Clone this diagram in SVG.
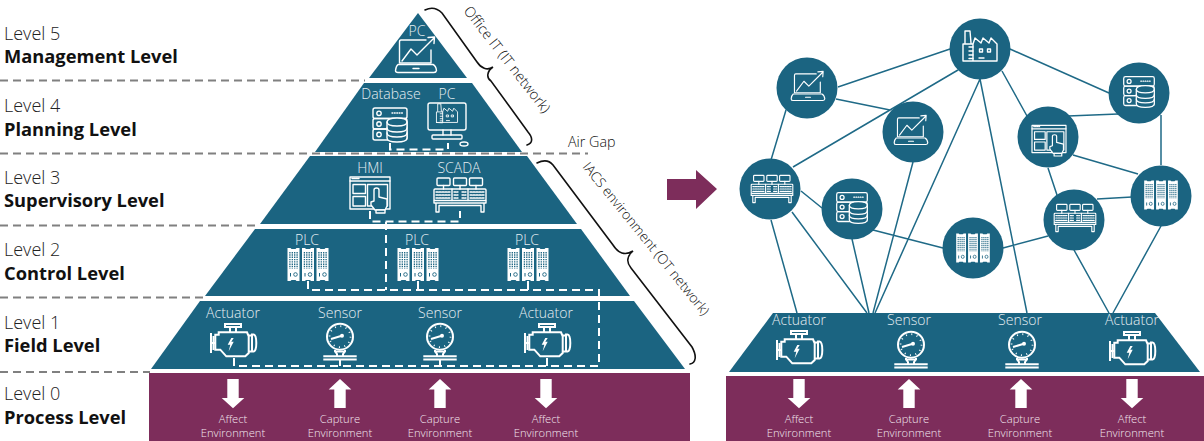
<svg xmlns="http://www.w3.org/2000/svg" xmlns:xlink="http://www.w3.org/1999/xlink" width="1204" height="441" viewBox="0 0 1204 441">
<style>
text{font-family:"Open Sans","Noto Sans","Liberation Sans",sans-serif}
.lv{font-size:18px;font-weight:300;fill:#222}
.lb{font-size:18.300px;font-weight:700;fill:#111}
.t{font-size:14px;font-weight:300;fill:#e6eef2;text-anchor:middle}
.e{font-size:11.200px;font-weight:300;fill:#f2e6ee;text-anchor:middle}
.n{font-size:14.300px;font-weight:300;fill:#111}
.teal{fill:#1b6481}
.pur{fill:#7d2d5b}
.ic{fill:none;stroke:#fff;stroke-width:1.400;stroke-linejoin:round;stroke-linecap:round}
.icf{fill:#1b6481;stroke:#fff;stroke-width:1.400;stroke-linejoin:round}
.wf{fill:#fff;stroke:none}
.g{fill:none;stroke:#808080;stroke-width:2;stroke-dasharray:8 5}
.w{fill:none;stroke:#fff;stroke-width:2;stroke-dasharray:8 5}
.ws{fill:none;stroke:#fff;stroke-width:2}
.br{fill:none;stroke:#111;stroke-width:1.600;stroke-linecap:round}
.cn{fill:none;stroke:#1f6a87;stroke-width:1.500}
.gr{fill:none;stroke:#1b6481;stroke-width:1.300;stroke-dasharray:1.400 .9}
</style>
<defs>
<g id="laptop">
<path class="ic" d="M15,-6V7H-16.500V-14Q-16.500,-16 -15,-16H10"/>
<path class="ic" d="M-14,5L-5,-7L1,-1L18,-18M12,-18.500L18.500,-19L18,-12.500"/>
<path class="ic" d="M-18,8.500H17Q20,10 20.500,14.500Q20,16.500 18,16.500H-18Q-20.500,16.500 -20.500,14.500Q-20,10 -18,8.500ZM-3,12.500H3"/>
</g>
<g id="db">
<rect class="ic" x="-17" y="-17" width="34" height="10.500" rx="2"/>
<rect class="ic" x="-17" y="-6.500" width="34" height="10.500" rx="2"/>
<rect class="ic" x="-17" y="4" width="34" height="11" rx="2"/>
<circle class="ic" cx="-11" cy="-11.700" r="2.200"/><circle class="ic" cx="-11" cy="-1" r="2.200"/><circle class="ic" cx="-11" cy="9.500" r="2.200"/>
<path class="ic" d="M2,-12H13" stroke-dasharray=".8 1.600"/>
<path class="icf" d="M-3,-3V13Q-3,17 7,17Q17,17 17,13V-3Q17,-7 7,-7Q-3,-7 -3,-3Z"/>
<path class="ic" d="M-3,-3Q-3,1 7,1Q17,1 17,-3M-3,3Q-3,7 7,7Q17,7 17,3M-3,8Q-3,12 7,12Q17,12 17,8"/>
</g>
<g id="factory">
<path class="ic" d="M-15,-6V-18H-10L-9,-6M-17,12V-5H-7M-7,12V-5L-5,-11L1,-6L3,-11L9,-6L11,-11L17,-5V12H-17Z"/>
<path class="ic" d="M-11,-2H-7M-11,2H-7M-11,6H-7M-11,9.500H-7M-1,9H4"/>
<rect class="ic" x="-0.500" y="0" width="3" height="3"/><rect class="ic" x="7.500" y="0" width="3" height="3"/>
</g>
<g id="monitor">
<rect class="ic" x="-19" y="-19" width="38" height="27" rx="2"/>
<use href="#factory" transform="translate(0,-7) scale(.62)"/>
<path class="ic" d="M-4,8V13M4,8V13"/>
<rect class="ic" x="-15" y="13" width="30" height="4" rx="1"/>
<ellipse class="ic" cx="17" cy="22" rx="4" ry="2"/>
</g>
<g id="hmi">
<rect class="ic" x="-20" y="-16" width="40" height="32"/>
<path class="ic" d="M-20,-12H20"/>
<path class="ic" d="M-18,-14.500H-10" stroke-dasharray="1 1"/>
<rect class="ic" x="-17" y="-8.500" width="12.500" height="9"/>
<rect class="ic" x="-17" y="3.500" width="12.500" height="9.500"/>
<rect class="ic" x="-2.500" y="-8.500" width="20" height="21.500"/>
<path class="icf" d="M4,8V-3Q4,-5 6.500,-5Q9,-5 9,-3V4L17,6V13L15,17H5L1,12V9Z"/>
<rect class="icf" x="6" y="17" width="9" height="3"/>
</g>
<g id="scada">
<rect class="ic" x="-23" y="-17" width="13" height="7.500" rx="1"/><rect class="ic" x="-6.500" y="-17" width="13" height="7.500" rx="1"/><rect class="ic" x="9.500" y="-17" width="13" height="7.500" rx="1"/>
<path class="ic" d="M-16.500,-9.500V-6M0,-9.500V-6M16,-9.500V-6"/>
<rect class="ic" x="-26" y="-6" width="52" height="11.500" rx="1"/>
<path class="ic" d="M-8,-6V5.500M8,-6V5.500"/>
<path class="ic" d="M-24,-3H-10M-24,0H-10M-24,3H-10M-6,-3H-2M2,-3H6M-6,0H-2M2,0H6M-6,3H-2M2,3H6M10,-3H24M10,0H24M10,3H24" stroke-dasharray="2 1" stroke-linecap="butt"/>
<path class="ic" d="M-26,5.500V8H26V5.500M-24,8V17H-21V10.500H21V17H24V8"/>
</g>
<g id="rack">
<path class="wf" d="M-6,-16.500H-3L-2,-15.500H2L3,-16.500H6V16.500H3L2,15.500H-2L-3,16.500H-6Z"/>
<path class="gr" d="M-3.600,-12.500V4M-1.200,-12.500V4M1.200,-12.500V4M3.600,-12.500V4"/>
<circle cx="2" cy="10" r="1.800" fill="none" stroke="#1b6481" stroke-width=".9"/>
<path d="M-3,8.500V12" stroke="#1b6481" fill="none"/>
</g>
<g id="plc">
<use href="#rack" x="-14.500"/><use href="#rack"/><use href="#rack" x="14.500"/>
</g>
<g id="engine">
<path class="ws" d="M-8,-17H8V-14H-8ZM-3,-14V-8.700M3,-14V-8.700"/>
<path class="ws" d="M-14.300,-8.700H14L15.700,-4.700V12L12.300,15.300H-6.700L-12.700,8.700H-17.700V-6.300H-14.300Z"/>
<path class="ws" d="M-22,-8V12M-19.500,-5V9M-22,2H-17.700"/>
<path class="ws" d="M15.700,-5.500H19V10.500H15.700M19,-6.500H20.500Q23.300,-6 23.300,2Q23.300,10 20.500,10.500H19Z"/>
<path class="wf" d="M-1.700,-3L-5.300,3.700H-2.700L-4.300,10.300L.7,.7H-1.700L.7,-3Z"/>
</g>
<g id="gauge">
<circle class="ws" cx="0" cy="-4.800" r="13"/>
<circle cx="0" cy="-4.800" r="10.500" fill="none" stroke="#fff" stroke-width="1.800" stroke-dasharray="1 4.500"/>
<path class="ws" d="M-9,-2.500L1,-5.500"/><circle class="wf" cx="2" cy="-5.800" r="2"/>
<path class="ws" d="M-5,8.500V10L-3,12.500V14.500M5,8.500V10L3,12.500V14.500M-5,10H5"/>
<path class="ws" d="M-16.700,14.800H16.700M-16.700,18H16.700"/>
</g>
<g id="down"><path class="wf" d="M-5.700,0H5.700V19H11.300L0,29.300L-11.300,19H-5.700Z"/></g>
<g id="up"><path class="wf" d="M-5.700,29H5.700V10.500H11.300L0,0L-11.300,10.500H-5.700Z"/></g>
</defs>

<g id="separators">
<path class="g" d="M0,80.500H365M0,153.500H588M0,225.500H258M0,297.500H205M0,372H150"/>
</g>

<g id="level-5"><path class="teal" d="M418,13L467,78H369Z"/>
<text class="t" x="417" y="36">PC</text><use href="#laptop" x="416" y="56"/></g>
<g id="level-4"><path class="teal" d="M364,83H472L522,152H315Z"/>
<text class="t" x="391" y="99">Database</text><text class="t" x="447" y="99">PC</text>
<use href="#db" x="390" y="125"/><use href="#monitor" x="447" y="122"/></g>
<g id="level-3"><path class="teal" d="M310,156H527L577,224H260Z"/>
<text class="t" x="370" y="173">HMI</text><text class="t" x="459" y="173">SCADA</text>
<use href="#hmi" x="370" y="193"/><use href="#scada" x="460" y="195"/></g>
<g id="level-2"><path class="teal" d="M255,229H581L630,296H205Z"/>
<text class="t" x="307" y="245">PLC</text><text class="t" x="417" y="245">PLC</text><text class="t" x="527" y="245">PLC</text>
<use href="#plc" x="308" y="264.500"/><use href="#plc" x="418" y="264.500"/><use href="#plc" x="528" y="264.500"/></g>
<g id="level-1"><path class="teal" d="M200,301H634L685,369H151Z"/>
<text class="t" x="233" y="318">Actuator</text><text class="t" x="340" y="318">Sensor</text><text class="t" x="440" y="318">Sensor</text><text class="t" x="546" y="318">Actuator</text>
<use href="#engine" x="233" y="341"/><use href="#gauge" x="340" y="341.500"/><use href="#gauge" x="440" y="341.500"/><use href="#engine" x="547" y="341"/></g>
<g id="level-0"><rect class="pur" x="149" y="373" width="541" height="68"/>
<use href="#down" x="233" y="379"/><use href="#up" x="340" y="379"/><use href="#up" x="440" y="379"/><use href="#down" x="546" y="379"/>
<text class="e" x="233" y="423">Affect</text><text class="e" x="233" y="437">Environment</text>
<text class="e" x="340" y="423">Capture</text><text class="e" x="340" y="437">Environment</text>
<text class="e" x="440" y="423">Capture</text><text class="e" x="440" y="437">Environment</text>
<text class="e" x="546" y="423">Affect</text><text class="e" x="546" y="437">Environment</text></g>

<g id="level-labels">
<text class="lv" x="4" y="40">Level 5</text><text class="lb" x="4" y="63">Management Level</text>
<text class="lv" x="4" y="112">Level 4</text><text class="lb" x="4" y="136">Planning Level</text>
<text class="lv" x="4" y="184">Level 3</text><text class="lb" x="4" y="207">Supervisory Level</text>
<text class="lv" x="4" y="256">Level 2</text><text class="lb" x="4" y="280">Control Level</text>
<text class="lv" x="4" y="329">Level 1</text><text class="lb" x="4" y="352">Field Level</text>
<text class="lv" x="4" y="400">Level 0</text><text class="lb" x="4" y="424">Process Level</text>
</g>

<g id="connectors">
<path class="w" d="M390,143V149.500H448V143"/>
<path class="w" d="M370,211V221.500H460V211"/>
<path class="w" d="M386,222V290"/>
<path class="w" d="M308,281V290H599V366H234V358"/>
<path class="ws" d="M418,281V290M528,281V290M340,360V366M440,360V366M547,358V366"/>
<path class="br" d="M425,10C431,7 437,8 442,13L477,62C481,68 487,71 493,67C487,71 486,78 491,81L528,132C533,138 533,143 527,145"/>
<path class="br" d="M537,163C543,160 549,160 553,165L613,245C618,253 625,256 633,251C627,256 626,262 631,268L692,347C697,356 696,363 690,364"/>
<g id="mesh" class="cn">
<path d="M838,87L950,49M836,99L890,110M786,110L771,160M958,70L793,167M913,162L873,313M980,79L875,313M801,191L822,208M771,220L797,313M792,212L867,313M852,239L869,313M873,230L943,248M1003,248L1048,236M1048,168L1057,195M1097,199L1132,197M1074,250L1109,313M1073,155L1138,174M1068,116L1118,114M1002,71L1027,116M1010,49L1109,93M1161,115V165M1161,226L1113,313M980,79L1027,313"/>
</g>
</g>

<g id="annotations">
<text class="n" transform="translate(463,11) rotate(52)">Office IT (IT network)</text>
<text class="n" transform="translate(582,167) rotate(51)" style="font-size:13.700px">IACS environment (OT network)</text>
<text class="n" x="568" y="147">Air Gap</text>
<path id="arrow" class="pur" d="M667,179H696V170L717,189L696,209V200H667Z"/>
</g>

<g id="net-process">
<rect class="pur" x="726" y="376" width="478" height="65"/>
<use href="#down" x="799" y="379"/><use href="#up" x="909" y="379"/><use href="#up" x="1021" y="379"/><use href="#down" x="1132" y="379"/>
<text class="e" x="799" y="423">Affect</text><text class="e" x="799" y="437">Environment</text>
<text class="e" x="909" y="423">Capture</text><text class="e" x="909" y="437">Environment</text>
<text class="e" x="1020" y="423">Capture</text><text class="e" x="1020" y="437">Environment</text>
<text class="e" x="1132" y="423">Affect</text><text class="e" x="1132" y="437">Environment</text>
</g>
<g id="net-field">
<path class="teal" d="M773,313H1155L1200,372H729Z"/>
<text class="t" x="799" y="325">Actuator</text><text class="t" x="909" y="325">Sensor</text><text class="t" x="1020" y="325">Sensor</text><text class="t" x="1132" y="325">Actuator</text>
<use href="#engine" x="799" y="348"/><use href="#gauge" x="911" y="349.500"/><use href="#gauge" x="1022" y="349.500"/><use href="#engine" x="1132" y="349"/>
</g>
<g id="n-laptop-1"><circle class="teal" cx="807" cy="88" r="30.500"/><use href="#laptop" transform="translate(808,87) scale(.82)"/></g>
<g id="n-laptop-2"><circle class="teal" cx="913" cy="132" r="30.500"/><use href="#laptop" transform="translate(911,131) scale(.82)"/></g>
<g id="n-factory"><circle class="teal" cx="980" cy="49" r="30.500"/><use href="#factory" x="980" y="49"/></g>
<g id="n-db-1"><circle class="teal" cx="1139" cy="93" r="30.500"/><use href="#db" transform="translate(1139,92) scale(.9)"/></g>
<g id="n-hmi"><circle class="teal" cx="1048" cy="137" r="30.500"/><use href="#hmi" transform="translate(1049,139) scale(.85)"/></g>
<g id="n-scada-1"><circle class="teal" cx="770" cy="189" r="30.500"/><use href="#scada" transform="translate(772,189) scale(.8)"/></g>
<g id="n-db-2"><circle class="teal" cx="852" cy="209" r="30.500"/><use href="#db" transform="translate(852,208) scale(.9)"/></g>
<g id="n-plc-1"><circle class="teal" cx="973" cy="248" r="30.500"/><use href="#plc" transform="translate(973,248) scale(.82,.88)"/></g>
<g id="n-scada-2"><circle class="teal" cx="1074" cy="220" r="30.500"/><use href="#scada" transform="translate(1075,218) scale(.8)"/></g>
<g id="n-plc-2"><circle class="teal" cx="1161" cy="196" r="30.500"/><use href="#plc" transform="translate(1161,195) scale(.82,.88)"/></g>
</svg>
